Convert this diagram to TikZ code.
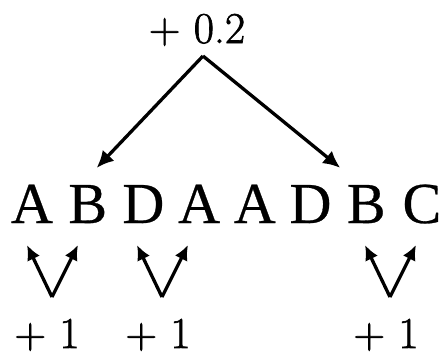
\documentclass[tikz,border=0pt]{standalone}
\usepackage{fontspec}
\newfontfamily\letterfont[FakeBold=0.5]{Liberation Serif}
\newfontfamily\scorefont[FakeBold=1.5]{Latin Modern Roman}
\usetikzlibrary{arrows.meta,positioning,calc}

\begin{document}
\begin{tikzpicture}[
  x=1pt, y=-1pt,
  letter/.style={anchor=base, inner sep=0pt, font=\letterfont\fontsize{58}{64}\selectfont},
  score/.style={anchor=base, inner sep=0pt, font=\scorefont\fontsize{44}{50}\selectfont},
  arr/.style={-{Latex[length=17pt,width=16pt]}, line width=3.3pt},
  varr/.style={-{Latex[length=15pt,width=14pt]}, line width=3.3pt}
]
\useasboundingbox (0,0) rectangle (440,356);
\foreach \l [count=\i] in {A,B,D,A,A,D,B,C}
  \node[letter] (l\i) at ({32+55.7*(\i-1)},223) {\l};
\node[score] (top) at (197,43) {+ 0.2};
\coordinate (apex) at (203,56);
\coordinate (t1) at ($(l2.north)+(9,-17)$);
\coordinate (t2) at ($(l7.north)+(-26,-17)$);
\draw[arr] (apex) -- (t1);
\draw[arr] (apex) -- (t2);
\coordinate (v1) at (52,297);
\coordinate (v2) at (162,297);
\coordinate (v3) at (390,297);
\foreach \v in {v1,v2,v3} {
  \draw[varr] (\v) -- ($(\v)+(-25,-52)$);
  \draw[varr] (\v) -- ($(\v)+(26,-52)$);
}
\node[score] (s1) at (47,348) {+ 1};
\node[score] (s2) at (158,348) {+ 1};
\node[score] (s3) at (386,348) {+ 1};
\end{tikzpicture}
\end{document}
